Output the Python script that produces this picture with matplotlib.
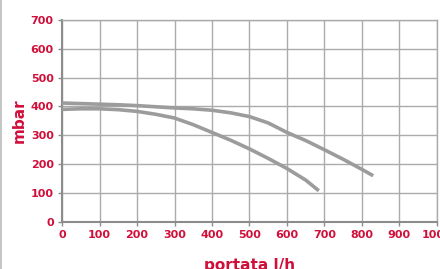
import matplotlib
matplotlib.use("Agg")
import matplotlib.pyplot as plt
from matplotlib.lines import Line2D

flow_a = [0, 50, 100, 150, 200, 250, 300, 350, 400, 450, 500, 550, 600, 650, 700, 750, 800, 830]
mbar_a = [412, 410, 408, 406, 403, 399, 395, 392, 387, 378, 365, 343, 310, 282, 250, 217, 182, 160]

flow_b = [0, 50, 100, 150, 200, 250, 300, 350, 400, 450, 500, 550, 600, 650, 685]
mbar_b = [390, 392, 392, 389, 383, 373, 360, 337, 310, 283, 253, 220, 185, 145, 108]

xticks = list(range(0, 1001, 100))
yticks = list(range(0, 701, 100))

red = "#d0103a"
grey = "#ababab"
font = ["Liberation Sans Narrow", "DejaVu Sans"]

fig = plt.figure(figsize=(4.4, 2.69), dpi=100)
ax = fig.add_axes([0.141, 0.175, 0.852, 0.751])

ax.plot(flow_a, mbar_a, color="#9c9c9c", lw=2.6, solid_capstyle="butt", zorder=3)
ax.plot(flow_b, mbar_b, color="#9c9c9c", lw=2.6, solid_capstyle="butt", zorder=3)

ax.set_xlim(0, 1000)
ax.set_ylim(0, 700)
ax.set_xticks(xticks)
ax.set_yticks(yticks)
ax.grid(True, color=grey, lw=1.0)
ax.set_axisbelow(True)
for s in ax.spines.values():
    s.set_color(grey)
    s.set_linewidth(1.0)
ax.spines["left"].set_color("#8c8c8c")
ax.spines["bottom"].set_color("#8c8c8c")
ax.spines["left"].set_linewidth(1.5)
ax.spines["bottom"].set_linewidth(1.5)

ax.tick_params(axis="both", length=3, width=1, color="#8c8c8c", labelsize=8,
               labelcolor=red, pad=3)
for lab in ax.get_xticklabels() + ax.get_yticklabels():
    lab.set_fontweight("bold")
    lab.set_family(font)

ax.set_ylabel("mbar", color=red, fontsize=11, fontweight="bold", labelpad=3, family=font)
ax.set_xlabel("portata l/h", color=red, fontsize=11, fontweight="bold", labelpad=13, family=font)

fig.add_artist(Line2D([0.003, 0.003], [0, 1], color="#bbbbbb", lw=1.2))

fig.savefig("out.png", dpi=100)
